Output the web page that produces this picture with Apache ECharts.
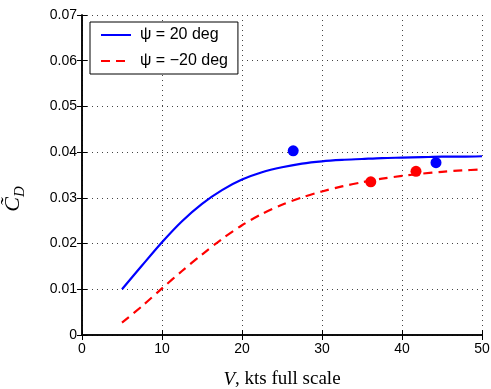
<!DOCTYPE html>
<html><head><meta charset="utf-8">
<script src="https://cdn.jsdelivr.net/npm/echarts@6/dist/echarts.min.js"></script>
<style>html,body{margin:0;padding:0;background:#fff}#c{width:491px;height:389px}</style>
</head><body><div id="c"></div>
<script>
var xTicks = [0, 10, 20, 30, 40, 50];
var yTicks = [0, 0.01, 0.02, 0.03, 0.04, 0.05, 0.06, 0.07];
var vCurve = [5, 7.5, 10, 12.5, 15, 17.5, 20, 22.5, 25, 27.5, 30, 32.5, 35, 37.5, 40, 42.5, 45, 47.5, 50];
var cdPos20 = [0.0100, 0.0152, 0.0203, 0.0249, 0.0287, 0.0317, 0.0340, 0.0356, 0.0367, 0.0375, 0.0380, 0.0383, 0.0385, 0.0387, 0.0388, 0.0389, 0.0390, 0.0390, 0.0391];
var cdNeg20 = [0.0027, 0.0063, 0.0102, 0.0140, 0.0176, 0.0210, 0.0240, 0.0265, 0.0285, 0.0301, 0.0314, 0.0325, 0.0334, 0.0342, 0.0348, 0.0353, 0.0357, 0.0360, 0.0362];
var vPts20 = [26.4, 44.25];
var cdPts20 = [0.0403, 0.0377];
var vPtsNeg20 = [36.1, 41.75];
var cdPtsNeg20 = [0.0335, 0.0358];
var names = ['\u03c8 = 20 deg', '\u03c8 = \u221220 deg'];

function zip(a, b) { return a.map(function (v, i) { return [v, b[i]]; }); }

var chart = echarts.init(document.getElementById('c'));
var axisFont = { fontFamily: 'Liberation Sans', fontSize: 14, color: '#000' };
var commonX = { type: 'value', min: xTicks[0], max: xTicks[xTicks.length - 1], interval: 10 };
var commonY = { type: 'value', min: yTicks[0], max: yTicks[yTicks.length - 1], interval: 0.01 };
var frameLine = { show: true, lineStyle: { color: '#000', width: 1.5 } };
chart.setOption({
  animation: false,
  grid: { left: 82, right: 9, top: 15, bottom: 54, outerBoundsMode: 'none', containLabel: false },
  legend: {
    data: names.map(function (n) { return { name: n }; }),
    orient: 'vertical',
    left: 90, top: 22,
    backgroundColor: '#fff',
    borderColor: '#000', borderWidth: 1, borderRadius: 0,
    padding: [5, 10, 5, 10],
    itemWidth: 30, itemHeight: 14, itemGap: 10,
    itemStyle: { opacity: 0 },
    formatter: function (n) { return '{t|' + n + '}'; },
    textStyle: { rich: { t: { fontFamily: 'Liberation Sans', fontSize: 16, color: '#000', padding: [0, 0, 0, 4] } } }
  },
  xAxis: [
    Object.assign({}, commonX, {
      position: 'bottom',
      name: '{i|V}{r|, kts full scale}', nameLocation: 'middle', nameGap: 35,
      nameTextStyle: { rich: {
        i: { fontFamily: 'Liberation Serif', fontStyle: 'italic', fontSize: 19, color: '#000' },
        r: { fontFamily: 'Liberation Serif', fontSize: 19, color: '#000' } } },
      axisLine: frameLine,
      axisTick: { show: true, inside: true, length: 5, lineStyle: { color: '#000' } },
      axisLabel: Object.assign({ margin: 7, formatter: function (v) { return String(v); } }, axisFont),
      splitLine: { show: true, lineStyle: { color: '#444', type: [1, 4], width: 1 } }
    }),
    Object.assign({}, commonX, {
      position: 'top',
      axisLine: frameLine,
      axisTick: { show: true, inside: true, length: 5, lineStyle: { color: '#000' } },
      axisLabel: { show: false }, splitLine: { show: false }
    })
  ],
  yAxis: [
    Object.assign({}, commonY, {
      position: 'left',
      name: '{c|C\u0303}{s|D}', nameLocation: 'middle', nameGap: 58, nameRotate: 90,
      nameTextStyle: { padding: [0, 48, 0, 0], rich: {
        c: { fontFamily: 'Liberation Serif', fontStyle: 'italic', fontSize: 22, color: '#000', verticalAlign: 'bottom' },
        s: { fontFamily: 'Liberation Serif', fontStyle: 'italic', fontSize: 15, color: '#000', verticalAlign: 'bottom', padding: [0, 0, -4, 0] } } },
      axisLine: frameLine,
      axisTick: { show: true, inside: true, length: 5, lineStyle: { color: '#000' } },
      axisLabel: Object.assign({ margin: 5, formatter: function (v) { return v === 0 ? '0' : v.toFixed(2); } }, axisFont),
      splitLine: { show: true, lineStyle: { color: '#444', type: [1, 4], width: 1 } }
    }),
    Object.assign({}, commonY, {
      position: 'right',
      axisLine: frameLine,
      axisTick: { show: true, inside: true, length: 5, lineStyle: { color: '#000' } },
      axisLabel: { show: false }, splitLine: { show: false }
    })
  ],
  series: [
    { name: names[0], type: 'line', data: zip(vCurve, cdPos20), smooth: 0.3, symbol: 'none',
      lineStyle: { color: '#0000ff', width: 2.2 }, itemStyle: { color: '#0000ff' }, z: 3 },
    { name: names[1], type: 'line', data: zip(vCurve, cdNeg20), smooth: 0.3, symbol: 'none',
      lineStyle: { color: '#ff0000', width: 2.2, type: [9, 6] }, itemStyle: { color: '#ff0000' }, z: 3 },
    { name: 'pts20', type: 'scatter', data: zip(vPts20, cdPts20), symbol: 'circle', symbolSize: 11,
      itemStyle: { color: '#0000ff', opacity: 1 }, z: 4 },
    { name: 'ptsNeg20', type: 'scatter', data: zip(vPtsNeg20, cdPtsNeg20), symbol: 'circle', symbolSize: 11,
      itemStyle: { color: '#ff0000', opacity: 1 }, z: 4 }
  ]
});
</script></body></html>
